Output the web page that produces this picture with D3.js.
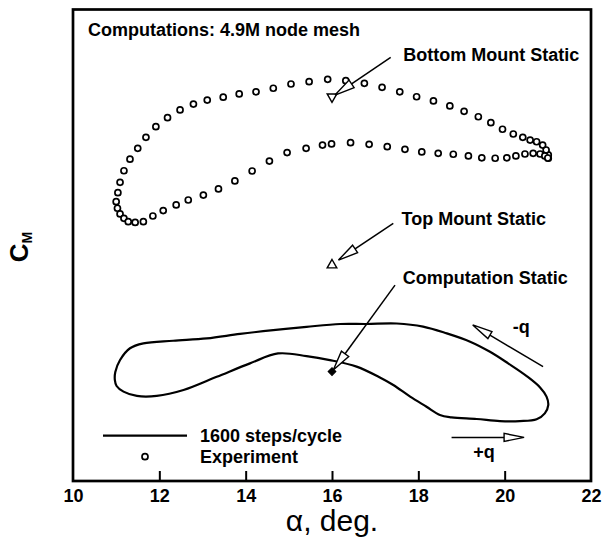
<!DOCTYPE html>
<html>
<head>
<meta charset="utf-8">
<script src="https://cdn.jsdelivr.net/npm/d3@7"></script>
<style>
  body { margin: 0; background: #fff; }
  svg { display: block; }
  text { font-family: "Liberation Sans", Arial, Helvetica, sans-serif; fill: #000; }
</style>
</head>
<body>
<svg id="chart" width="602" height="537"></svg>
<script>
// Experiment: pitching-moment hysteresis loop (alpha in deg, CM)
const expAlpha = [21.01, 21.01, 20.96, 20.88, 20.74, 20.59, 20.42, 20.20, 19.95, 19.68,
  19.39, 19.06, 18.73, 18.35, 17.96, 17.57, 17.16, 16.75, 16.32, 15.90,
  15.47, 15.05, 14.64, 14.24, 13.85, 13.48, 13.11, 12.79, 12.48, 12.19,
  11.92, 11.69, 11.50, 11.32, 11.18, 11.09, 11.04, 11.00, 11.03, 11.09,
  11.18, 11.28, 11.44, 11.63, 11.85, 12.09, 12.39, 12.67, 13.02, 13.37,
  13.75, 14.15, 14.55, 14.96, 15.40, 15.78, 15.99, 16.43, 16.86, 17.28,
  17.69, 18.08, 18.46, 18.81, 19.16, 19.47, 19.78, 20.05, 20.26, 20.47,
  20.66, 20.82, 20.93, 21.00];
const expCm = [0.0369, 0.0383, 0.0404, 0.0425, 0.0439, 0.0446, 0.0458, 0.0472, 0.0492, 0.0520,
  0.0545, 0.0568, 0.0591, 0.0612, 0.0630, 0.0651, 0.0670, 0.0687, 0.0698, 0.0704,
  0.0694, 0.0684, 0.0666, 0.0651, 0.0642, 0.0628, 0.0616, 0.0599, 0.0574, 0.0541,
  0.0503, 0.0458, 0.0411, 0.0365, 0.0316, 0.0267, 0.0223, 0.0185, 0.0157, 0.0133,
  0.0114, 0.0100, 0.0097, 0.0100, 0.0124, 0.0147, 0.0171, 0.0192, 0.0213, 0.0239,
  0.0273, 0.0315, 0.0357, 0.0393, 0.0411, 0.0425, 0.0430, 0.0435, 0.0428, 0.0418,
  0.0407, 0.0396, 0.0390, 0.0386, 0.0379, 0.0371, 0.0369, 0.0371, 0.0379, 0.0387,
  0.0390, 0.0387, 0.0379, 0.0370];

// Computation, 1600 steps/cycle (closed loop, +q along the lower branch)
const cfdAlpha = [10.97, 11.01, 11.17, 11.48, 11.94, 12.56, 13.33, 14.10, 14.75, 15.41,
  15.95, 16.57, 17.11, 17.42, 17.81, 18.19, 18.50, 18.77, 19.35, 19.89,
  20.35, 20.74, 20.93, 21.01, 20.97, 20.82, 20.51, 20.08, 19.66, 19.20,
  18.66, 18.11, 17.50, 16.80, 16.19, 15.41, 14.64, 13.87, 13.10, 12.32,
  11.63, 11.32, 11.09, 10.98];
const cfdCm = [-0.0572, -0.0597, -0.0621, -0.0639, -0.0639, -0.0614, -0.0558, -0.0501, -0.0459, -0.0470,
  -0.0487, -0.0515, -0.0561, -0.0593, -0.0642, -0.0685, -0.0720, -0.0730, -0.0737, -0.0746,
  -0.0746, -0.0738, -0.0713, -0.0678, -0.0642, -0.0603, -0.0555, -0.0501, -0.0452, -0.0409,
  -0.0374, -0.0345, -0.0332, -0.0334, -0.0334, -0.0346, -0.0360, -0.0376, -0.0395, -0.0405,
  -0.0416, -0.0437, -0.0487, -0.0538];

// Static values at alpha = 16 deg
const staticNames = ["Bottom Mount Static", "Top Mount Static", "Computation Static"];
const staticAlpha = [16.0, 16.0, 16.0];
const staticCm = [0.0630, -0.0084, -0.0536];

// Callout arrows: tail -> tip, in data units
const noteTailAlpha = [17.36, 17.42, 17.46];
const noteTailCm = [0.0797, 0.0093, -0.0169];
const noteTipAlpha = [16.07, 16.15, 16.03];
const noteTipCm = [0.0637, -0.0063, -0.0529];
const noteTextAlpha = [17.65, 17.61, 17.64];
const noteTextCm = [0.0780, 0.0084, -0.0166];

// Pitch-rate direction arrows
const rateLabels = ["-q", "+q"];
const rateTailAlpha = [20.89, 18.77];
const rateTailCm = [-0.0515, -0.0815];
const rateTipAlpha = [19.26, 20.45];
const rateTipCm = [-0.0338, -0.0815];
const rateTextAlpha = [20.19, 19.52];
const rateTextCm = [-0.0372, -0.0904];

const xTicks = [10, 12, 14, 16, 18, 20, 22];

const svg = d3.select("#chart");
const plotLeft = 73, plotRight = 591, plotTop = 9.5, plotBottom = 481;

const x = d3.scaleLinear().domain([10, 22]).range([plotLeft, plotRight]);
const y = d3.scaleLinear().domain([-0.1, 0.1]).range([plotBottom, plotTop]);

// x axis: labels below, ticks pointing into the plot
const xAxis = svg.append("g")
  .attr("transform", `translate(0,${plotBottom})`)
  .call(d3.axisBottom(x).tickValues(xTicks).tickSizeInner(-10).tickSizeOuter(0).tickPadding(8));
xAxis.select(".domain").remove();
xAxis.selectAll(".tick line")
  .attr("stroke", "#000").attr("stroke-width", 2)
  .attr("display", d => (d === 10 || d === 22) ? "none" : null);
xAxis.selectAll(".tick text")
  .attr("font-size", 18).attr("font-weight", "bold")
  .style("font-family", '"Liberation Sans", Arial, sans-serif');

// Plot frame
svg.append("rect")
  .attr("x", plotLeft).attr("y", plotTop)
  .attr("width", plotRight - plotLeft).attr("height", plotBottom - plotTop)
  .attr("fill", "none").attr("stroke", "#000").attr("stroke-width", 2.7);

// Axis titles
svg.append("text")
  .attr("x", x(16)).attr("y", 531)
  .attr("text-anchor", "middle")
  .attr("font-size", 30)
  .text("\u03B1, deg.");

const yTitle = svg.append("text")
  .attr("transform", "translate(28,247) rotate(-90)")
  .attr("text-anchor", "middle")
  .attr("font-weight", "bold")
  .attr("font-size", 26);
yTitle.append("tspan").text("C");
yTitle.append("tspan").attr("font-size", 14).attr("dy", 4).text("M");

// Title note
svg.append("text")
  .attr("x", 88).attr("y", 36)
  .attr("font-size", 18).attr("font-weight", "bold")
  .text("Computations: 4.9M node mesh");

// Computed loop
const cfd = cfdAlpha.map((a, i) => [a, cfdCm[i]]);
svg.append("path")
  .datum(cfd)
  .attr("d", d3.line().x(d => x(d[0])).y(d => y(d[1])).curve(d3.curveCatmullRomClosed.alpha(0.5)))
  .attr("fill", "none").attr("stroke", "#000").attr("stroke-width", 2.2);

// Experimental points
const exp = expAlpha.map((a, i) => [a, expCm[i]]);
svg.append("g").selectAll("circle")
  .data(exp).join("circle")
  .attr("cx", d => x(d[0])).attr("cy", d => y(d[1]))
  .attr("r", 3).attr("fill", "#fff").attr("stroke", "#000").attr("stroke-width", 1.7);

// Static markers
const sym = svg.append("g");
sym.append("path")
  .attr("d", d3.symbol(d3.symbolTriangle, 40)())
  .attr("transform", `translate(${x(staticAlpha[0])},${y(staticCm[0])}) rotate(180)`)
  .attr("fill", "#fff").attr("stroke", "#000").attr("stroke-width", 1.4);
sym.append("path")
  .attr("d", d3.symbol(d3.symbolTriangle, 40)())
  .attr("transform", `translate(${x(staticAlpha[1])},${y(staticCm[1])})`)
  .attr("fill", "#fff").attr("stroke", "#000").attr("stroke-width", 1.4);
sym.append("path")
  .attr("d", d3.symbol(d3.symbolSquare, 30)())
  .attr("transform", `translate(${x(staticAlpha[2])},${y(staticCm[2])}) rotate(45)`)
  .attr("fill", "#000").attr("stroke", "#000").attr("stroke-width", 1);

// Arrow with an open triangular head
function arrow(g, x1, y1, x2, y2, headLen, headHalf) {
  const dx = x2 - x1, dy = y2 - y1;
  const L = Math.hypot(dx, dy);
  const ux = dx / L, uy = dy / L;
  const bx = x2 - ux * headLen, by = y2 - uy * headLen;
  g.append("line")
    .attr("x1", x1).attr("y1", y1).attr("x2", bx).attr("y2", by)
    .attr("stroke", "#000").attr("stroke-width", 1.5);
  const px = -uy * headHalf, py = ux * headHalf;
  g.append("path")
    .attr("d", `M${x2},${y2}L${bx + px},${by + py}L${bx - px},${by - py}Z`)
    .attr("fill", "#fff").attr("stroke", "#000").attr("stroke-width", 1.4)
    .attr("stroke-linejoin", "miter");
}

const notes = svg.append("g");
staticNames.forEach((name, i) => {
  arrow(notes, x(noteTailAlpha[i]), y(noteTailCm[i]), x(noteTipAlpha[i]), y(noteTipCm[i]), 20, 4.5);
  notes.append("text")
    .attr("x", x(noteTextAlpha[i])).attr("y", y(noteTextCm[i]))
    .attr("font-size", 18).attr("font-weight", "bold")
    .text(name);
});

rateLabels.forEach((lab, i) => {
  arrow(notes, x(rateTailAlpha[i]), y(rateTailCm[i]), x(rateTipAlpha[i]), y(rateTipCm[i]), 20, 4);
});
notes.append("text")
  .attr("x", x(rateTextAlpha[0])).attr("y", y(rateTextCm[0]))
  .attr("font-size", 18).attr("font-weight", "bold")
  .text(rateLabels[0]);
notes.append("text")
  .attr("x", x(rateTextAlpha[1])).attr("y", y(rateTextCm[1]))
  .attr("text-anchor", "middle")
  .attr("font-size", 18).attr("font-weight", "bold")
  .text(rateLabels[1]);

// Legend
const legend = svg.append("g");
legend.append("line")
  .attr("x1", 103).attr("x2", 187).attr("y1", 435.7).attr("y2", 435.7)
  .attr("stroke", "#000").attr("stroke-width", 2.2);
legend.append("text").attr("x", 200).attr("y", 441.5)
  .attr("font-size", 18).attr("font-weight", "bold").text("1600 steps/cycle");
legend.append("circle").attr("cx", 145).attr("cy", 456.7).attr("r", 3)
  .attr("fill", "#fff").attr("stroke", "#000").attr("stroke-width", 1.7);
legend.append("text").attr("x", 200).attr("y", 463)
  .attr("font-size", 18).attr("font-weight", "bold").text("Experiment");
</script>
</body>
</html>
